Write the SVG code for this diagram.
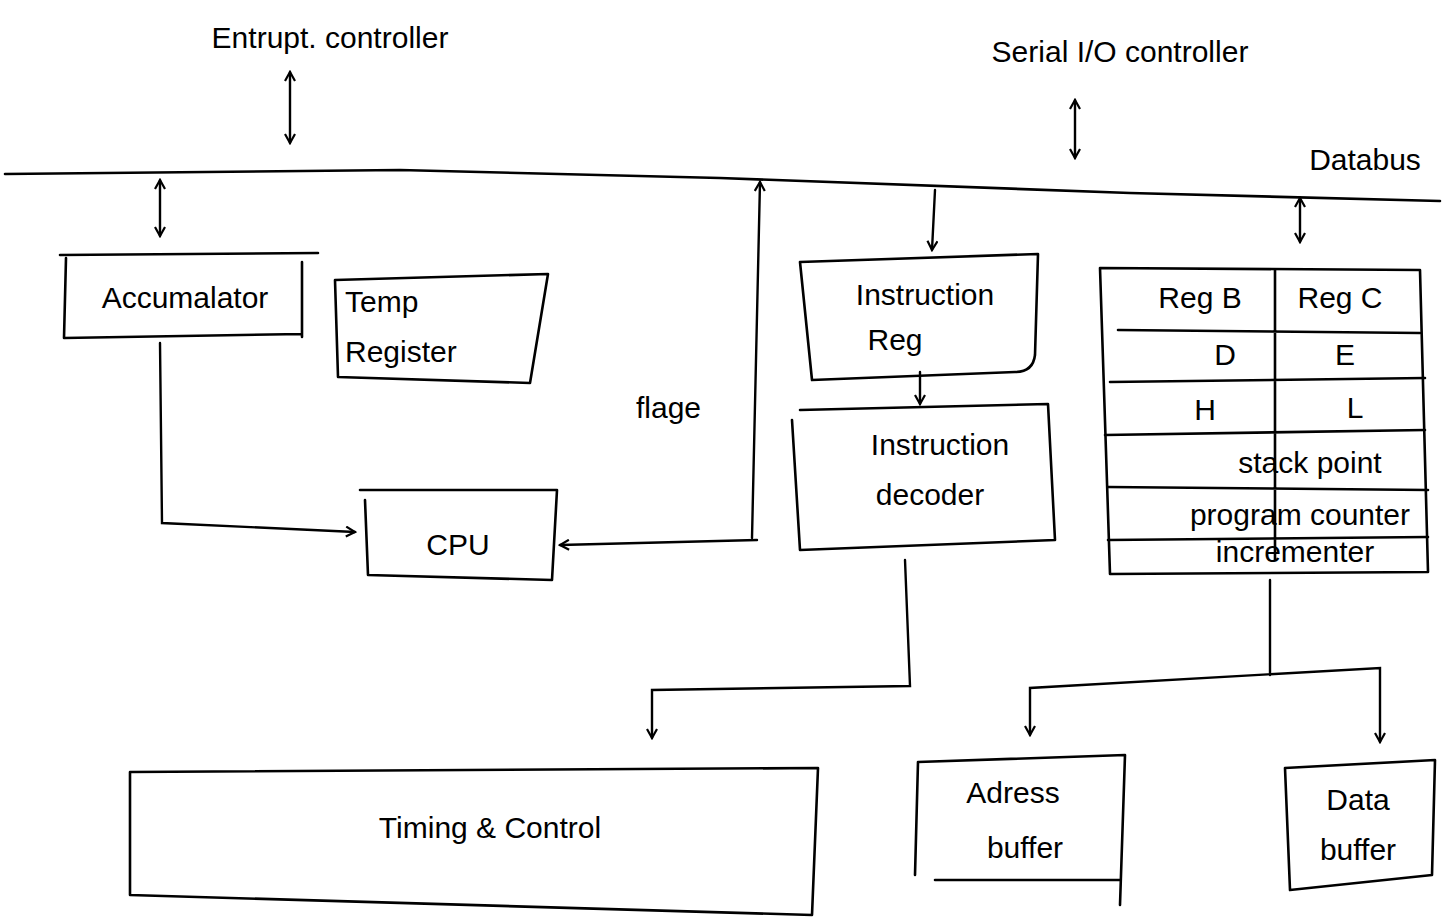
<svg xmlns="http://www.w3.org/2000/svg" width="1442" height="924" viewBox="0 0 1442 924">
<defs>
<marker id="ah" viewBox="0 0 12 12" refX="10" refY="6" markerWidth="12" markerHeight="12" orient="auto-start-reverse" markerUnits="userSpaceOnUse">
<path d="M1,1 L10,6 L1,11" fill="none" stroke="#000" stroke-width="2.2"/>
</marker>
<style>
.s{fill:none;stroke:#000;stroke-width:2.6;stroke-linecap:round;stroke-linejoin:round}
.c{fill:none;stroke:#000;stroke-width:2.4;stroke-linecap:round}
.t{font-family:"Liberation Sans",Arial,sans-serif;fill:#000;font-size:30px}
.m{text-anchor:middle}
</style>
</defs>
<rect width="1442" height="924" fill="#fff"/>

<g id="bus">
<polyline class="s" points="5,174 400,170 720,178 1130,193 1440,201"/>
<text class="t" x="1365" y="170" text-anchor="middle" font-size="28">Databus</text>
</g>

<g id="interrupt-controller">
<text class="t m" x="330" y="48" font-size="30">Entrupt. controller</text>
</g>
<g id="serial-io-controller">
<text class="t m" x="1120" y="62" font-size="32">Serial I/O controller</text>
</g>

<g id="accumulator">
<path class="s" d="M60,255 L318,253 M66,258 L64,338 L302,334 M302,262 L302,337"/>
<text class="t m" x="185" y="308" font-size="30">Accumalator</text>
</g>
<g id="temp-register">
<path class="s" d="M335,280 L548,274 L530,383 L338,377 Z"/>
<text class="t" x="345" y="312" font-size="30">Temp</text>
<text class="t" x="345" y="362" font-size="30">Register</text>
</g>
<g id="cpu">
<path class="s" d="M360,490 L557,490 L552,580 L368,575 L365,500"/>
<text class="t m" x="458" y="555" font-size="38">CPU</text>
</g>
<g id="flags">
<text class="t" x="636" y="418" font-size="30">flage</text>
</g>
<g id="instruction-register">
<path class="s" d="M800,262 L1038,254 L1035,355 Q1033,372 1015,372 L812,380 Z"/>
<text class="t m" x="925" y="305" font-size="30">Instruction</text>
<text class="t m" x="895" y="350" font-size="30">Reg</text>
</g>
<g id="instruction-decoder">
<path class="s" d="M800,410 L1048,404 L1055,540 L800,550 L792,420"/>
<text class="t m" x="940" y="455" font-size="32">Instruction</text>
<text class="t m" x="930" y="505" font-size="34">decoder</text>
</g>
<g id="register-array">
<path class="s" d="M1100,268 L1420,270 L1428,572 L1110,574 Z"/>
<path class="s" d="M1275,270 L1275,560 M1118,330 L1420,333 M1110,382 L1425,378 M1105,435 L1425,430 M1108,487 L1428,490 M1108,540 L1428,537"/>
<text class="t m" x="1200" y="308" font-size="28">Reg B</text>
<text class="t m" x="1340" y="308" font-size="28">Reg C</text>
<text class="t m" x="1225" y="365" font-size="28">D</text>
<text class="t m" x="1345" y="365" font-size="28">E</text>
<text class="t m" x="1205" y="420" font-size="28">H</text>
<text class="t m" x="1355" y="418" font-size="28">L</text>
<text class="t m" x="1310" y="473" font-size="26">stack point</text>
<text class="t m" x="1300" y="525" font-size="24">program counter</text>
<text class="t m" x="1295" y="562" font-size="24">incrementer</text>
</g>
<g id="timing-control">
<path class="s" d="M130,772 L818,768 L812,915 L130,895 Z"/>
<text class="t m" x="490" y="838" font-size="32">Timing &amp; Control</text>
</g>
<g id="address-buffer">
<path class="s" d="M918,762 L1125,755 L1120,905 M918,762 L915,875 M935,880 L1120,880"/>
<text class="t m" x="1013" y="803" font-size="30">Adress</text>
<text class="t m" x="1025" y="858" font-size="30">buffer</text>
</g>
<g id="data-buffer">
<path class="s" d="M1285,768 L1435,760 L1432,875 L1290,890 Z"/>
<text class="t m" x="1358" y="810" font-size="30">Data</text>
<text class="t m" x="1358" y="860" font-size="30">buffer</text>
</g>

<g id="connectors">
<line class="c" x1="290" y1="72" x2="290" y2="143" marker-start="url(#ah)" marker-end="url(#ah)"/>
<line class="c" x1="1075" y1="100" x2="1075" y2="158" marker-start="url(#ah)" marker-end="url(#ah)"/>
<line class="c" x1="160" y1="180" x2="160" y2="236" marker-start="url(#ah)" marker-end="url(#ah)"/>
<line class="c" x1="1300" y1="198" x2="1300" y2="242" marker-start="url(#ah)" marker-end="url(#ah)"/>
<polyline class="c" points="160,343 162,523 355,532" marker-end="url(#ah)"/>
<line class="c" x1="752" y1="538" x2="760" y2="182" marker-end="url(#ah)"/>
<line class="c" x1="757" y1="540" x2="560" y2="545" marker-end="url(#ah)"/>
<line class="c" x1="935" y1="190" x2="932" y2="250" marker-end="url(#ah)"/>
<line class="c" x1="920" y1="372" x2="920" y2="404" marker-end="url(#ah)"/>
<polyline class="c" points="905,560 910,686 652,690 652,738" marker-end="url(#ah)"/>
<line class="c" x1="1270" y1="580" x2="1270" y2="675"/>
<polyline class="c" points="1030,735 1030,688 1380,668 1380,742" marker-start="url(#ah)" marker-end="url(#ah)"/>
</g>
</svg>
